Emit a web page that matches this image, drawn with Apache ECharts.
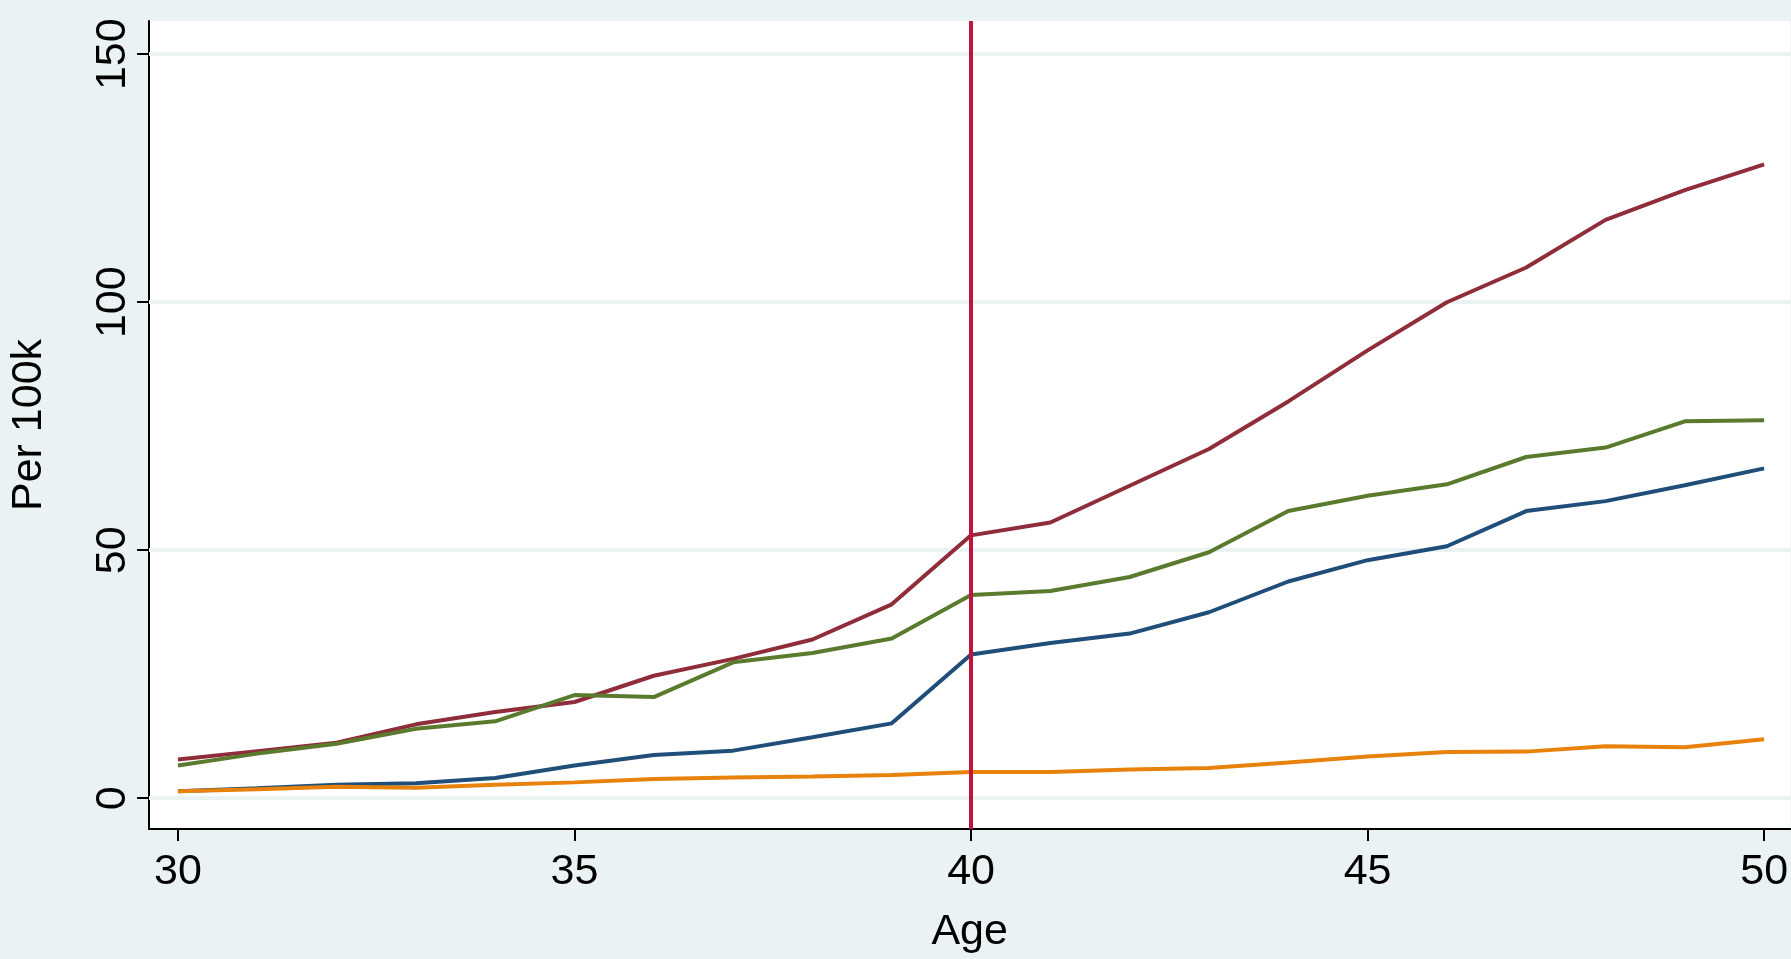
<!DOCTYPE html>
<html>
<head>
<meta charset="utf-8">
<style>
* { margin: 0; padding: 0; }
html, body { width: 100%; height: 100%; background: #eaf2f3; }
#chart { width: 1791px; height: 959px; }
</style>
</head>
<body>
<div id="chart"></div>
<script src="https://cdn.jsdelivr.net/npm/echarts@6/dist/echarts.min.js"></script>
<script>
var ages = [30,31,32,33,34,35,36,37,38,39,40,41,42,43,44,45,46,47,48,49,50];
var redVals = [7.8,9.5,11.2,14.9,17.4,19.4,24.7,28.1,32,39.1,53,55.6,63,70.4,80,90.3,100,107,116.6,122.6,127.8];
var greenVals = [6.6,9,11,14,15.5,20.8,20.4,27.4,29.3,32.2,41,41.8,44.6,49.6,57.9,61,63.3,68.8,70.7,76,76.2];
var blueVals = [1.4,2,2.7,3,4.1,6.6,8.7,9.6,12.3,15.1,29,31.3,33.2,37.5,43.7,48,50.8,57.9,59.9,63.1,66.5];
var orangeVals = [1.4,1.8,2.3,2.1,2.7,3.2,3.9,4.2,4.4,4.7,5.3,5.3,5.8,6.1,7.2,8.4,9.3,9.4,10.5,10.3,11.9];
var xTicks = [30,35,40,45,50];
var yTicks = [0,50,100,150];

function pairs(v) {
	return ages.map(function (a, i) { return [a, v[i]]; });
}
function line(name, color, v, extra) {
	var s = {
		name: name, type: 'line', data: pairs(v), showSymbol: false,
		lineStyle: { color: color, width: 4 }, itemStyle: { color: color }, z: 3
	};
	return Object.assign(s, extra || {});
}

var chart = echarts.init(document.getElementById('chart'));
chart.setOption({
	animation: false,
	backgroundColor: '#eaf2f3',
	grid: { left: 146, right: 0, top: 21, bottom: 125, backgroundColor: '#fff', show: true, borderWidth: 0 },
	xAxis: {
		type: 'value', min: 29.635, max: 50.33,
		name: 'Age', nameLocation: 'middle', nameGap: 82,
		nameTextStyle: { fontFamily: 'Liberation Sans', fontSize: 43, color: '#000' },
		axisLine: { show: true, onZero: false, lineStyle: { color: '#000', width: 2 } },
		axisTick: { show: true, length: 12, customValues: xTicks, lineStyle: { color: '#000', width: 2 } },
		axisLabel: { customValues: xTicks, fontFamily: 'Liberation Sans', fontSize: 43, color: '#000', margin: 22 },
		splitLine: { show: false }
	},
	yAxis: {
		type: 'value', min: -6.2, max: 156.7,
		name: 'Per 100k', nameLocation: 'middle', nameGap: 98, nameRotate: 90,
		nameTextStyle: { fontFamily: 'Liberation Sans', fontSize: 43, color: '#000' },
		axisLine: { show: true, onZero: false, lineStyle: { color: '#000', width: 2 } },
		axisTick: { show: true, length: 12, customValues: yTicks, lineStyle: { color: '#000', width: 2 } },
		axisLabel: { customValues: yTicks, rotate: 90, fontFamily: 'Liberation Sans', fontSize: 43, color: '#000', margin: 14 },
		splitLine: { show: false }
	},
	series: [
		line('blue', '#1f4e79', blueVals, {
			markLine: {
				silent: true, symbol: 'none', label: { show: false }, z: 1,
				lineStyle: { color: '#eaf2f3', width: 4, type: 'solid' },
				data: yTicks.map(function (t) { return { yAxis: t }; })
			}
		}),
		line('red', '#8f2d3a', redVals),
		line('green', '#5a7b2e', greenVals),
		line('orange', '#e8820c', orangeVals, {
			markLine: {
				silent: true, symbol: 'none', label: { show: false },
				lineStyle: { color: '#c0143c', width: 4, type: 'solid' },
				data: [{ xAxis: 40 }]
			}
		})
	]
});
</script>
</body>
</html>
